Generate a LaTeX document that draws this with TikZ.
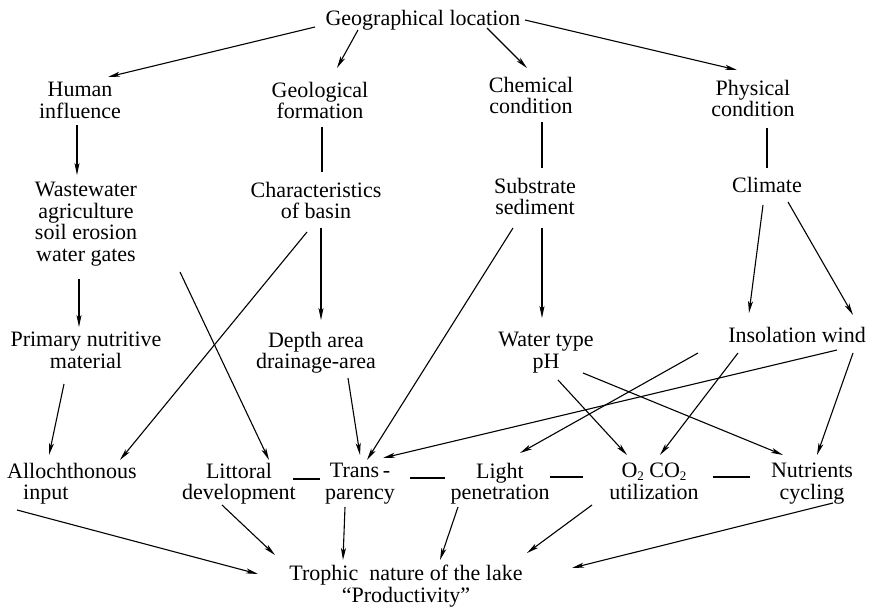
\documentclass[tikz,border=0pt]{standalone}
\usepackage{fontspec}
\setmainfont{Liberation Serif}
\usetikzlibrary{arrows.meta,calc}
\newcommand\lbfont{\fontsize{22}{21.5}\selectfont}
\newcommand\subtwo{\smash{\raisebox{-3pt}{\fontsize{13}{13}\selectfont 2}}}
\begin{document}
\begin{tikzpicture}[x=1pt,y=-1pt,
  lbl/.style={inner sep=0pt, align=center, anchor=north, font=\lbfont, execute at begin node=\strut},
  arr/.style={draw, line width=1.1pt, -{Stealth[length=12pt,width=5pt,inset=3pt]}},
  ln/.style={draw, line width=1.1pt}]
\useasboundingbox (0,0) rectangle (870,609);
% row 1
\node[lbl] (geo) at (423,10) {Geographical location};
% row 2
\node[lbl] (hum) at (80,82) {Human\\influence};
\node[lbl] (geol) at (320,82) {Geological\\formation};
\node[lbl] (chem) at (531,77) {Chemical\\condition};
\node[lbl] (phys) at (753,80) {Physical\\condition};
% row 3
\node[lbl] (waste) at (86,182) {Wastewater\\agriculture\\soil erosion\\water gates};
\node[lbl] (char) at (316,182) {Characteristics\\of basin};
\node[lbl] (subs) at (535,178) {Substrate\\sediment};
\node[lbl] (clim) at (767,177) {Climate};
% row 4
\node[lbl] (prim) at (86,332) {Primary nutritive\\material};
\node[lbl] (depth) at (316,332) {Depth area\\drainage-area};
\node[lbl] (water) at (546,332) {Water type\\pH};
\node[lbl] (ins) at (797,327) {Insolation wind};
% row 5
\node[lbl, align=left] (allo) at (72,463) {Allochthonous\\\hspace*{16pt}input};
\node[lbl] (litt) at (239,463) {Littoral\\development};
\node[lbl] (trans) at (360,463) {Trans\,-\\parency};
\node[lbl] (light) at (500,463) {Light\\penetration};
\node[lbl] (oxy) at (654,463) {O\subtwo\ CO\subtwo\\utilization};
\node[lbl] (nutr) at (812,463) {Nutrients\\cycling};
% row 6
\node[lbl] (troph) at (406,565) {Trophic\ \ nature of the lake\\“Productivity”};
% connectors
\draw[arr] ($(geo.north)+(-108,17)$) -- ($(hum.north)+(28,-5)$);
\draw[arr] ($(geo.north)+(-65,20)$) -- ($(geol.north)+(17,-14)$);
\draw[arr] ($(geo.north)+(64,18)$) -- ($(chem.north)+(-4,-9)$);
\draw[arr] ($(geo.north)+(102,10)$) -- ($(phys.north)+(-16,-10)$);
\draw[arr] ($(hum.north)+(-3,43)$) -- ($(waste.north)+(-9,-7)$);
\draw[ln] ($(geol.north)+(2,45)$) -- ($(char.north)+(6,-10)$);
\draw[ln] ($(chem.north)+(11,45)$) -- ($(subs.north)+(7,-10)$);
\draw[ln] ($(phys.north)+(14,48)$) -- ($(clim.north)+(0,-9)$);
\draw[arr] ($(waste.north)+(-7,97)$) -- ($(prim.north)+(-7,-5)$);
\draw[arr] ($(char.north)+(5,46)$) -- ($(depth.north)+(5,-12)$);
\draw[arr] ($(char.north)+(-9,50)$) -- ($(allo.north)+(48,-3)$);
\draw[arr] ($(waste.north)+(94,90)$) -- ($(litt.north)+(30,-3)$);
\draw[arr] ($(subs.north)+(7,50)$) -- ($(water.north)+(-4,-14)$);
\draw[arr] ($(subs.north)+(-22,50)$) -- ($(trans.north)+(7,-3)$);
\draw[arr] ($(clim.north)+(-4,28)$) -- ($(ins.north)+(-48,-14)$);
\draw[arr] ($(clim.north)+(21,25)$) -- ($(ins.north)+(56,-12)$);
\draw[arr] ($(prim.north)+(-22,52)$) -- ($(allo.north)+(-23,-8)$);
\draw[arr] ($(depth.north)+(32,46)$) -- ($(trans.north)+(0,-8)$);
\draw[arr] ($(water.north)+(12,48)$) -- ($(oxy.north)+(-27,-8)$);
\draw[arr] ($(water.north)+(37,41)$) -- ($(nutr.north)+(-29,-8)$);
\draw[arr] ($(ins.north)+(-99,26)$) -- ($(light.north)+(20,-10)$);
\draw[arr] ($(ins.north)+(-59,26)$) -- ($(oxy.north)+(6,-8)$);
\draw[arr] ($(ins.north)+(40,23)$) -- ($(trans.north)+(23,-5)$);
\draw[arr] ($(ins.north)+(56,26)$) -- ($(nutr.north)+(5,-8)$);
\draw[arr] ($(allo.north)+(-55,47)$) -- ($(troph.north)+(-148,9)$);
\draw[arr] ($(litt.north)+(-17,42)$) -- ($(troph.north)+(-131,-10)$);
\draw[arr] ($(trans.north)+(-15,44)$) -- ($(troph.north)+(-63,-5)$);
\draw[arr] ($(light.north)+(-42,44)$) -- ($(troph.north)+(34,-5)$);
\draw[arr] ($(oxy.north)+(-62,42)$) -- ($(troph.north)+(121,-12)$);
\draw[arr] ($(nutr.north)+(21,40)$) -- ($(troph.north)+(166,3)$);
% dashes
\draw[ln] ($(litt.north)+(54,16)$) -- ($(trans.north)+(-40,16)$);
\draw[ln] ($(trans.north)+(50,15)$) -- ($(light.north)+(-55,15)$);
\draw[ln] ($(light.north)+(50,14)$) -- ($(oxy.north)+(-71,14)$);
\draw[ln] ($(oxy.north)+(59,14)$) -- ($(nutr.north)+(-62,14)$);
\end{tikzpicture}
\end{document}
